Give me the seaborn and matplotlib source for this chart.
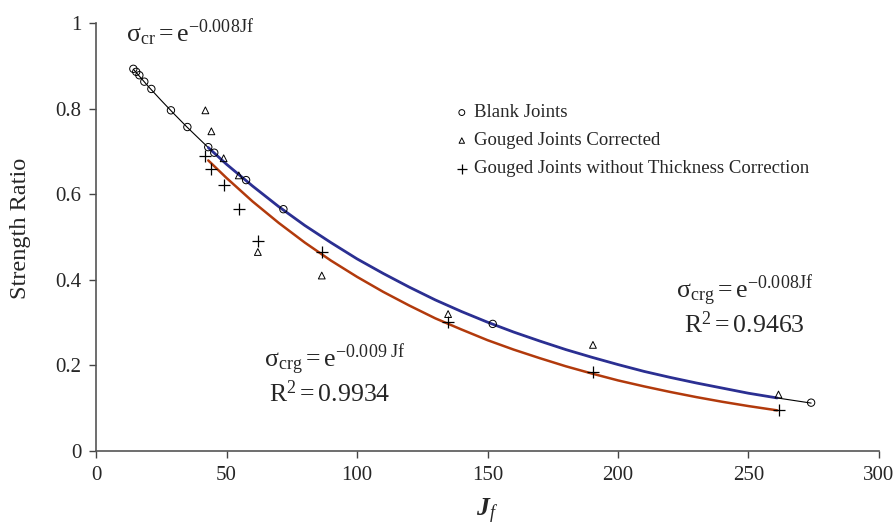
import matplotlib
matplotlib.use("Agg")
import matplotlib.pyplot as plt
import seaborn as sns
from matplotlib.ticker import FuncFormatter

sns.set_style("ticks")
plt.rcParams['font.family'] = ['Liberation Serif', 'DejaVu Serif']
plt.rcParams['mathtext.fontset'] = 'custom'
plt.rcParams['mathtext.rm'] = 'Liberation Serif'
plt.rcParams['mathtext.it'] = 'Liberation Serif:italic'
plt.rcParams['mathtext.bf'] = 'Liberation Serif:bold:italic'

# Blank joints (circles)
blank_jf = [14.3, 15.4, 16.6, 18.5, 21.2, 28.7, 35.0, 43.0, 45.3, 57.5, 71.8, 152.0, 274.0]
blank_sr = [0.893, 0.886, 0.878, 0.863, 0.846, 0.796, 0.757, 0.710, 0.697, 0.633, 0.565, 0.297, 0.113]

# Gouged joints (same Jf for both sets)
gouged_jf = [41.9, 44.2, 48.9, 54.7, 62.0, 86.5, 134.9, 190.4, 261.5]
gouged_corr = [0.796, 0.747, 0.684, 0.644, 0.465, 0.410, 0.320, 0.248, 0.132]
gouged_raw = [0.690, 0.660, 0.621, 0.566, 0.491, 0.466, 0.301, 0.185, 0.097]

# Fitted curves
fit_jf = [43, 50, 60, 70, 80, 90, 100, 110, 120, 130, 140, 150,
          160, 170, 180, 190, 200, 210, 220, 230, 240, 250, 261]
fit_corr = [0.709, 0.670, 0.619, 0.571, 0.527, 0.487, 0.449, 0.415, 0.383, 0.353, 0.326, 0.301,
            0.278, 0.257, 0.237, 0.219, 0.202, 0.186, 0.172, 0.159, 0.147, 0.135, 0.124]
fit_raw = [0.679, 0.638, 0.583, 0.533, 0.487, 0.445, 0.407, 0.372, 0.340, 0.310, 0.284, 0.259,
           0.237, 0.217, 0.198, 0.181, 0.165, 0.151, 0.138, 0.126, 0.115, 0.105, 0.095]

# blank joints curve (thin black), runs the full range
blank_line_jf = [14.3, 20, 25, 30, 35] + fit_jf + [274]
blank_line_sr = [0.892, 0.852, 0.819, 0.787, 0.756] + fit_corr + [0.112]

fig = plt.figure(figsize=(8.95, 5.28), dpi=100)
ax = fig.add_axes([0.1073, 0.1458, 0.8748, 0.8106])

# lines
sns.lineplot(x=blank_line_jf, y=blank_line_sr, color="black", linewidth=0.8, ax=ax, zorder=2)
sns.lineplot(x=fit_jf, y=fit_corr, color="#2B2F92", linewidth=2.0, ax=ax, zorder=3)
sns.lineplot(x=fit_jf, y=fit_raw, color="#B23A0C", linewidth=1.8, ax=ax, zorder=3)

# points
sns.scatterplot(x=blank_jf, y=blank_sr, marker="o", s=28, facecolors="none",
                edgecolor="black", linewidth=0.7, ax=ax, zorder=4, label="Blank Joints")
sns.scatterplot(x=gouged_jf, y=gouged_corr, marker="^", s=24, facecolors="none",
                edgecolor="black", linewidth=0.7, ax=ax, zorder=4, label="Gouged Joints Corrected")
sns.scatterplot(x=gouged_jf, y=gouged_raw, marker="+", s=80, color="black",
                linewidth=0.9, ax=ax, zorder=4, label="Gouged Joints without Thickness Correction")

ax.set_xlim(0, 300)
ax.set_ylim(0, 1)
ax.set_xticks([0, 50, 100, 150, 200, 250, 300])
ax.set_yticks([0, 0.2, 0.4, 0.6, 0.8, 1.0])
ax.yaxis.set_major_formatter(FuncFormatter(lambda v, p: f"{v:g}"))
ax.tick_params(axis="both", labelsize=15, length=5, width=1, pad=5.5, color="#444444")

for s in ["top", "right"]:
    ax.spines[s].set_visible(False)
for s in ["left", "bottom"]:
    ax.spines[s].set_color("#555555")
    ax.spines[s].set_linewidth(1.2)

ax.set_ylabel("Strength Ratio", fontsize=17.5)
ax.yaxis.set_label_coords(-0.083, 0.52)
ax.set_xlabel(r"$\mathbf{J}_{\mathit{f}}$", fontsize=18.5)
ax.xaxis.set_label_coords(0.5, -0.108)

leg = ax.legend(loc="upper left", bbox_to_anchor=(0.46, 0.81), frameon=False,
                fontsize=13.5, handlelength=0.6, handletextpad=0.35,
                labelspacing=0.58, borderpad=0, borderaxespad=0, markerscale=0.8)

# equations
ax.text(11.5, 0.956, r"$\mathregular{σ_{cr} = e^{-0.008Jf}}$", fontsize=18.5, va="baseline")
ax.text(248.3, 0.357, r"$\mathregular{σ_{crg} = e^{-0.008Jf}}$", fontsize=18.5,
        ha="center", va="baseline")
ax.text(248.3, 0.276, r"$\mathregular{R^{2} = 0.9463}$", fontsize=18.5,
        ha="center", va="baseline")
ax.text(91.6, 0.196, r"$\mathregular{σ_{crg} = e^{-0.009\ Jf}}$", fontsize=18.5,
        ha="center", va="baseline")
ax.text(89.7, 0.114, r"$\mathregular{R^{2} = 0.9934}$", fontsize=18.5,
        ha="center", va="baseline")

fig.savefig("out.png", dpi=100)
